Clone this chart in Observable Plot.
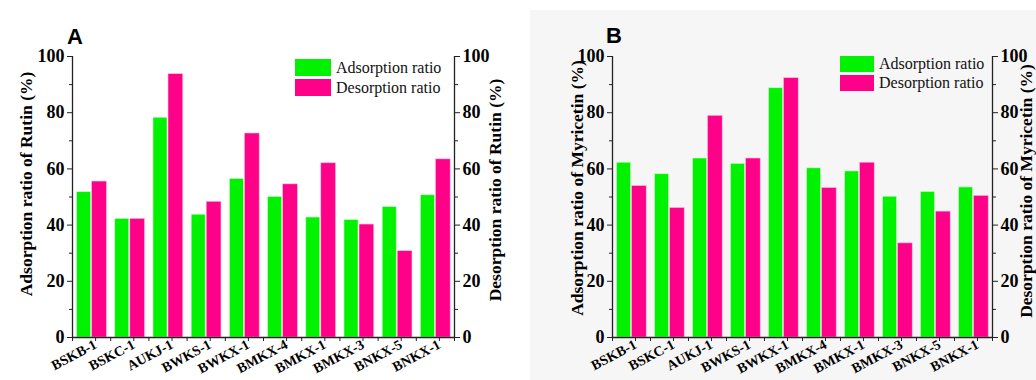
<!DOCTYPE html>
<html>
<head>
<meta charset="utf-8">
<script src="https://cdn.jsdelivr.net/npm/d3@7"></script>
<script src="https://cdn.jsdelivr.net/npm/@observablehq/plot@0.6"></script>
<style>
  body { margin: 0; background: #ffffff; }
  #wrap { position: relative; width: 1036px; height: 380px; overflow: hidden; background: #ffffff; }
  .panel { position: absolute; top: 0; width: 518px; height: 380px; }
  .bgB { position: absolute; left: 530px; top: 10px; width: 506px; height: 370px; background: #f6f6f6; }
  .letter { position: absolute; font-family: "Liberation Sans", Arial, sans-serif; font-weight: bold; font-size: 22px; line-height: 22px; color: #000; }
  .leg { position: absolute; font-family: "Liberation Serif", "Times New Roman", serif; font-size: 16px; color: #111; }
  .leg .row { display: flex; align-items: center; }
  .leg .sw { display: inline-block; margin-right: 5px; }
</style>
</head>
<body>
<div id="wrap">
  <div class="bgB"></div>
</div>
<script>
// ---- data ----
const categories = ["BSKB-1", "BSKC-1", "AUKJ-1", "BWKS-1", "BWKX-1", "BMKX-4", "BMKX-1", "BMKX-3", "BNKX-5", "BNKX-1"];
const seriesNames = ["Adsorption ratio", "Desorption ratio"];
const seriesColors = ["#00f200", "#ff0088"];

const rutinAdsorption   = [51.7, 42.2, 78.2, 43.7, 56.4, 50.0, 42.7, 41.8, 46.4, 50.6];
const rutinDesorption   = [55.5, 42.2, 93.7, 48.3, 72.6, 54.5, 62.0, 40.2, 30.7, 63.4];
const myrAdsorption     = [62.2, 58.1, 63.7, 61.8, 88.7, 60.2, 59.1, 50.1, 51.8, 53.4];
const myrDesorption     = [53.9, 46.1, 78.9, 63.7, 92.3, 53.2, 62.2, 33.5, 44.8, 50.4];

const yMajorTicks = [0, 20, 40, 60, 80, 100];
const yMinorTicks = [10, 30, 50, 70, 90];

function rows(values) {
  return values.map((v, i) => ({cat: categories[i], i, value: v}));
}

function panel(opts) {
  const {ads, des, leftTitle, rightTitle, margins, titleOffsets} = opts;
  const groupCenters = categories.map((c, i) => i + 0.5);
  const groupEdges = d3.range(categories.length + 1);
  const tickFont = 18;
  return Plot.plot({
    width: 518,
    height: 380,
    marginLeft: margins.left,
    marginRight: margins.right,
    marginTop: margins.top,
    marginBottom: margins.bottom,
    style: {fontFamily: "'Liberation Serif', 'Times New Roman', serif", fontWeight: "bold", fontSize: tickFont + "px", color: "#000", background: "transparent", overflow: "visible"},
    x: {domain: [0, categories.length], axis: null},
    y: {domain: [0, 100], axis: null},
    marks: [
      Plot.rectY(rows(ads), {x1: d => d.i + 0.12, x2: d => d.i + 0.5, y: "value", fill: seriesColors[0], insetRight: 0.5, stroke: "#c8ffc8", strokeWidth: 0.6}),
      Plot.rectY(rows(des), {x1: d => d.i + 0.5, x2: d => d.i + 0.9, y: "value", fill: seriesColors[1], insetLeft: 0.5, stroke: "#ffc0dc", strokeWidth: 0.6}),
      // axis lines
      Plot.ruleX([0, categories.length], {stroke: "#222", strokeWidth: 1.3}),
      Plot.ruleY([0], {stroke: "#222", strokeWidth: 1.3}),
      // left y axis
      Plot.axisY({anchor: "left", ticks: yMajorTicks, tickSize: 5, tickPadding: 3, label: null, stroke: "#222", fontSize: tickFont, fontWeight: "bold"}),
      Plot.axisY({anchor: "left", ticks: yMinorTicks, tickSize: 3, tickFormat: () => "", label: null, stroke: "#222"}),
      // right y axis
      Plot.axisY({anchor: "right", ticks: yMajorTicks, tickSize: 5, tickPadding: 3, label: null, stroke: "#222", fontSize: tickFont, fontWeight: "bold"}),
      Plot.axisY({anchor: "right", ticks: yMinorTicks, tickSize: 3, tickFormat: () => "", label: null, stroke: "#222"}),
      // x axis
      Plot.axisX({anchor: "bottom", ticks: groupCenters, tickFormat: d => categories[Math.round(d - 0.5)], tickSize: 4, tickRotate: -28, tickPadding: 2, dx: 4, label: null, stroke: "#222", fontSize: 14, fontWeight: "bold"}),
      Plot.axisX({anchor: "bottom", ticks: groupEdges, tickFormat: () => "", tickSize: 4, label: null, stroke: "#222"}),
      // axis titles
      Plot.text([leftTitle], {text: d => d, frameAnchor: "left", textAnchor: "middle", lineAnchor: "middle", rotate: -90, dx: titleOffsets.ldx, dy: titleOffsets.ldy, fontSize: 17.5, fontWeight: "bold", fill: "#000"}),
      Plot.text([rightTitle], {text: d => d, frameAnchor: "right", textAnchor: "middle", lineAnchor: "middle", rotate: -90, dx: titleOffsets.rdx, dy: titleOffsets.rdy, fontSize: 17.5, fontWeight: "bold", fill: "#000"})
    ]
  });
}

const wrap = document.getElementById("wrap");

const plotA = panel({
  ads: rutinAdsorption, des: rutinDesorption,
  leftTitle: "Adsorption ratio of Rutin (%)",
  rightTitle: "Desorption ratio of Rutin (%)",
  margins: {left: 72, right: 64, top: 56, bottom: 43},
  titleOffsets: {ldx: -46, ldy: -13, rdx: 41, rdy: -7}
});
const pa = document.createElement("div");
pa.className = "panel"; pa.style.left = "0px";
pa.appendChild(plotA);
wrap.appendChild(pa);

const plotB = panel({
  ads: myrAdsorption, des: myrDesorption,
  leftTitle: "Adsorption ratio of Myricetin (%)",
  rightTitle: "Desorption ratio of Myricetin (%)",
  margins: {left: 94, right: 44, top: 56, bottom: 43},
  titleOffsets: {ldx: -35, ldy: -9, rdx: 34, rdy: -6}
});
const pb = document.createElement("div");
pb.className = "panel"; pb.style.left = "518px";
pb.appendChild(plotB);
wrap.appendChild(pb);

// panel letters
function addDiv(cls, left, top, html) {
  const d = document.createElement("div");
  d.className = cls;
  d.style.left = left + "px";
  d.style.top = top + "px";
  d.innerHTML = html;
  wrap.appendChild(d);
  return d;
}
addDiv("letter", 67, 26, "A");
addDiv("letter", 606, 25, "B");

// legends
function legend(left, top, swW, swH, gap) {
  const d = addDiv("leg", left, top, "");
  seriesNames.forEach((name, k) => {
    const r = document.createElement("div");
    r.className = "row";
    r.style.height = swH + "px";
    r.style.marginBottom = gap + "px";
    const s = document.createElement("span");
    s.className = "sw";
    s.style.width = swW + "px";
    s.style.height = swH + "px";
    s.style.background = seriesColors[k];
    const t = document.createElement("span");
    t.textContent = name;
    r.appendChild(s); r.appendChild(t);
    d.appendChild(r);
  });
}
legend(295, 59, 36, 17, 3);
legend(840, 56, 34, 16, 3);
</script>
</body>
</html>
